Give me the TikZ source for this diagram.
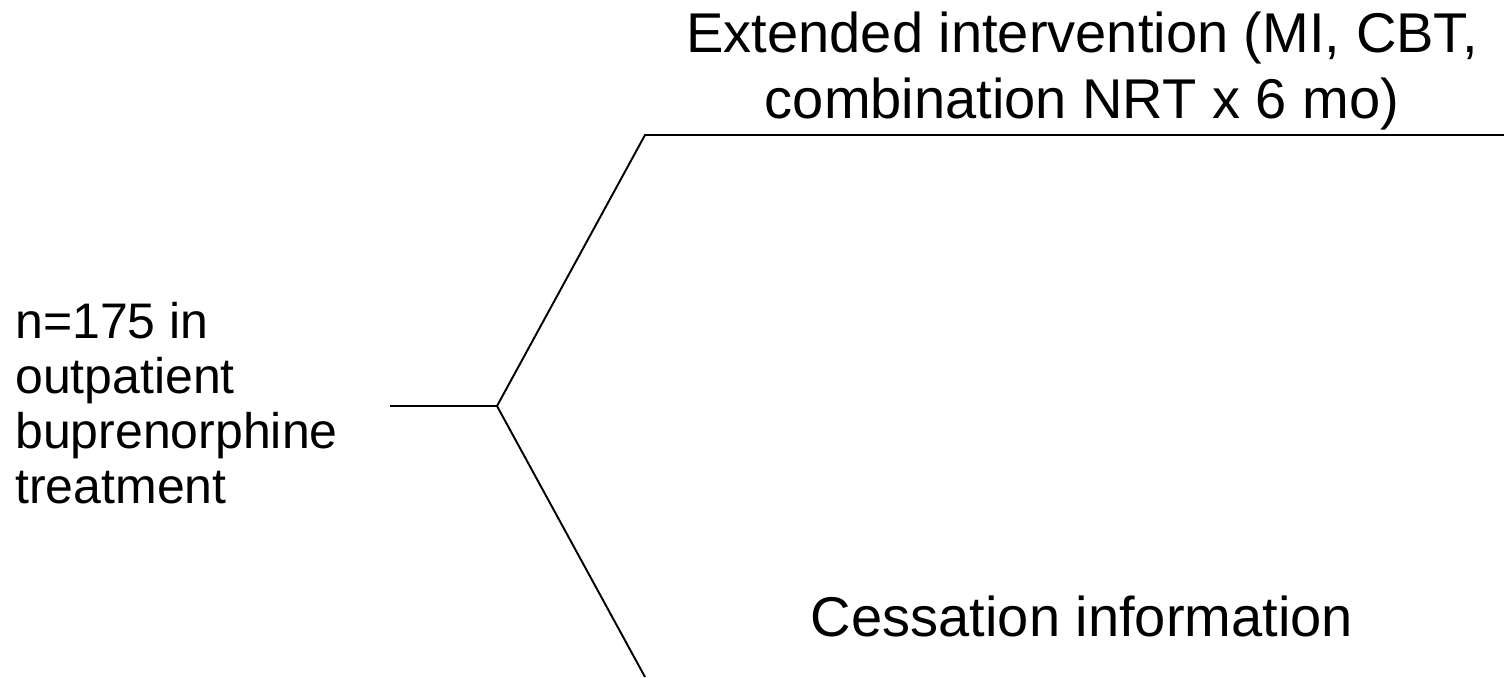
\documentclass[tikz,border=0pt]{standalone}
\usepackage{fontspec}
\setmainfont{Liberation Sans}
\usetikzlibrary{positioning}
\tikzset{
    armText/.style={font=\fontsize{31.9}{37}\selectfont, align=center, inner sep=0pt},
    cohortText/.style={font=\fontsize{28.45}{31.3}\selectfont, align=left, inner sep=0pt},
    branchEdge/.style={line width=1.1pt},
}
\begin{document}
\begin{tikzpicture}[x=0.02cm, y=-0.02cm]
    \useasboundingbox (0,0) rectangle (1504,677);

    \node[cohortText, anchor=base west] (cohort) at (15,503) {n=175 in\\outpatient\\buprenorphine\\treatment};
    \node[armText, anchor=base] (extended) at (1082,118) {Extended intervention (MI, CBT,\\combination NRT x 6 mo)};
    \node[armText, anchor=base] (cessation) at (1082,636) {Cessation information};

    \coordinate (stem) at (390,406);
    \coordinate (fork) at (497,406);
    \coordinate (upperBend) at (645,135);
    \coordinate (upperEnd) at (1504,135);
    \coordinate (lowerEnd) at (645,677);

    \draw[branchEdge] (stem) -- (fork);
    \draw[branchEdge] (upperEnd) -- (upperBend) -- (fork) -- (lowerEnd);

\end{tikzpicture}
\end{document}
